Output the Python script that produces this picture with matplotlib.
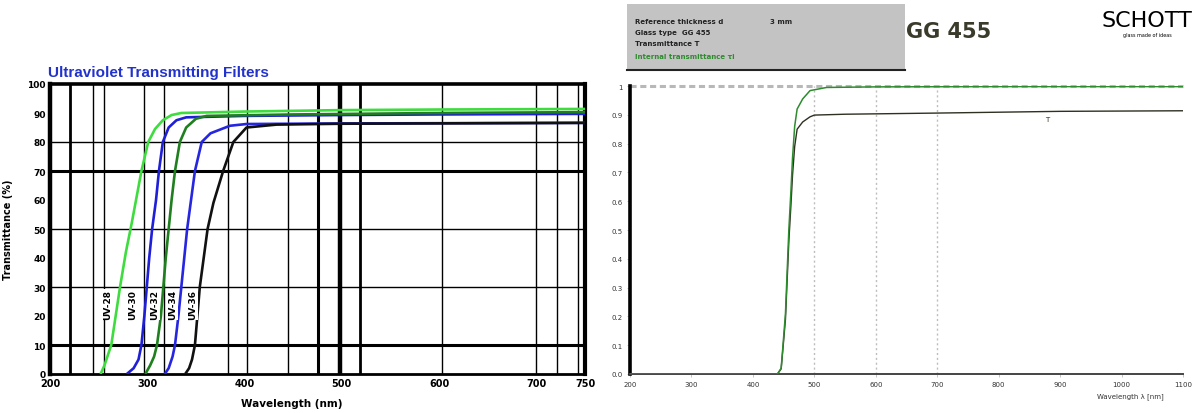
import matplotlib
matplotlib.use("Agg")
import matplotlib.pyplot as plt
from matplotlib.patches import Rectangle
from matplotlib.lines import Line2D

W, H = 1195, 414

# ---------------- left chart: UV sharp-cut filters ----------------
uv_names = ["UV-28", "UV-30", "UV-32", "UV-34", "UV-36"]
uv_colors = ["#3fdc3f", "#1f1fd8", "#1f7f1f", "#2626e0", "#111111"]

uv28_nm = [252, 256, 263, 272, 278, 284, 289, 294, 301, 308, 316, 325, 335, 400, 500, 600, 750]
uv28_t = [0, 3, 10, 30, 42, 52, 61, 70, 80, 84.5, 87.5, 89.3, 90, 90.5, 91, 91.2, 91.4]

uv30_nm = [279, 286, 291, 294, 297, 299.5, 302, 305, 309, 312, 316, 322, 330, 340, 400, 500, 600, 750]
uv30_t = [0, 2, 5, 10, 20, 30, 40, 50, 60, 70, 80, 85, 87.5, 88.5, 89, 89.3, 89.5, 89.7]

uv32_nm = [298, 303, 307, 310, 314, 316.5, 319, 322, 325, 328.5, 333.5, 340, 350, 361, 450, 600, 750]
uv32_t = [0, 3, 6, 10, 20, 30, 40, 50, 60, 70, 80, 85, 88, 89, 89.5, 90, 90.3]

uv34_nm = [318, 322, 326, 328.5, 332, 335, 338, 341, 345, 349, 356, 365, 385, 402, 500, 750]
uv34_t = [0, 2, 6, 10, 20, 30, 40, 50, 60, 70, 80, 83, 85.6, 86.2, 86.4, 86.6]

uv36_nm = [339, 343, 346, 349, 351.5, 354, 358, 362, 368, 378, 388.5, 402, 433, 500, 750]
uv36_t = [0, 2, 5, 10, 20, 30, 40, 50, 59, 70, 80, 85, 86, 86.3, 86.6]

uv_label_nm = [259, 285, 308, 326, 347]
uv_label_t = 24

left_xticks = [200, 300, 400, 500, 600, 700, 750]
left_yticks = [0, 10, 20, 30, 40, 50, 60, 70, 80, 90, 100]

# reference wavelengths drawn as vertical rules (nm, line width)
v_rules = [(221, 2.0), (244, 1.0), (255, 1.0), (297, 1.0), (317, 1.0),
           (383, 1.0), (403, 1.0), (445, 1.0), (476, 2.2), (498, 3.2),
           (519, 2.0), (603, 1.0), (700, 1.0), (721, 1.0), (743, 1.0)]
h_rules = [(10, 2.2), (30, 1.0), (50, 1.0), (70, 2.2), (80, 1.0)]

# ---------------- right chart: GG 455 ----------------
gg_nm = [200, 430, 440, 446, 449, 453, 458.5, 462, 464.5, 468, 472, 481, 493, 520, 600, 800, 1100]
gg_tau = [0, 0, 0.0, 0.02, 0.10, 0.21, 0.50, 0.64, 0.75, 0.86, 0.92, 0.955, 0.984, 0.995, 0.997, 0.998, 0.998]

gg_T_nm = [200, 440, 446, 449, 453, 458.5, 462, 464.5, 468, 472, 481, 493, 500, 550, 700, 900, 1100]
gg_T = [0, 0, 0.018, 0.09, 0.19, 0.46, 0.59, 0.69, 0.79, 0.85, 0.875, 0.893, 0.899, 0.902, 0.906, 0.912, 0.914]

right_xticks = [200, 300, 400, 500, 600, 700, 800, 900, 1000, 1100]
right_yticks = [0, 0.1, 0.2, 0.3, 0.4, 0.5, 0.6, 0.7, 0.8, 0.9, 1.0]
right_ylabels = ["0.0", "0.1", "0.2", "0.3", "0.4", "0.5", "0.6", "0.7", "0.8", "0.9", "1"]
marker_nm = [500, 600, 700]

fig = plt.figure(figsize=(W / 100, H / 100), dpi=100)
fig.patch.set_facecolor("white")

# ---- left axes ----
ax1 = fig.add_axes([50 / W, 1 - 375 / H, 535 / W, 290 / H])
ax1.set_xlim(200, 750)
ax1.set_ylim(0, 100)
for x, lw in v_rules:
    ax1.axvline(x, color="black", lw=lw, zorder=1)
for y, lw in h_rules:
    ax1.axhline(y, color="black", lw=lw, zorder=1)

curves = [(uv28_nm, uv28_t), (uv30_nm, uv30_t), (uv32_nm, uv32_t),
          (uv34_nm, uv34_t), (uv36_nm, uv36_t)]
for (nm, t), c in zip(curves, uv_colors):
    ax1.plot(nm, t, color=c, lw=1.9, zorder=3, solid_capstyle="butt",
             solid_joinstyle="round")

for name, x in zip(uv_names, uv_label_nm):
    ax1.text(x, uv_label_t, name, rotation=90, ha="center", va="center",
             fontsize=6.5, fontweight="bold", color="black", zorder=4,
             bbox=dict(facecolor="white", edgecolor="none", pad=0.6))

for side, lw in (("left", 3.2), ("top", 2.6), ("right", 3.0), ("bottom", 2.0)):
    ax1.spines[side].set_linewidth(lw)
    ax1.spines[side].set_color("black")
ax1.set_xticks(left_xticks)
ax1.set_xticklabels([str(v) for v in left_xticks], fontsize=7, fontweight="bold")
ax1.set_yticks(left_yticks)
ax1.set_yticklabels([str(v) for v in left_yticks], fontsize=6.5, fontweight="bold")
ax1.tick_params(length=0, pad=3)
ax1.set_ylabel("Transmittance (%)", fontsize=7, fontweight="bold", labelpad=10)

fig.text(292 / W, 1 - 404 / H, "Wavelength (nm)", fontsize=7.5,
         fontweight="bold", ha="center", va="center")
fig.text(48 / W, 1 - 73 / H, "Ultraviolet Transmitting Filters",
         fontsize=11, fontweight="bold", color="#2233cc",
         family="Liberation Sans", va="center", ha="left")

# ---- right axes ----
ax2 = fig.add_axes([630 / W, 1 - 375 / H, 553 / W, 288 / H])
ax2.set_xlim(200, 1100)
ax2.set_ylim(0, 1.0)
ax2.axhline(1.0, color="#b8b8b8", lw=2.2, dashes=(2.0, 1.2), zorder=1, clip_on=False)
for x in marker_nm:
    ax2.axvline(x, color="#bdbdbd", lw=1.0, dashes=(1.5, 2.0), zorder=1)
ax2.plot(gg_T_nm, gg_T, color="#2f2f22", lw=1.0, zorder=3)
ax2.plot(gg_nm, gg_tau, color="#2e8b2e", lw=1.1, zorder=4)
ax2.text(875, 0.885, "T", fontsize=5, color="#2f2f22", ha="left", va="center")

ax2.spines["top"].set_visible(False)
ax2.spines["right"].set_visible(False)
ax2.spines["left"].set_linewidth(2.6)
ax2.spines["left"].set_color("black")
ax2.spines["bottom"].set_linewidth(1.4)
ax2.spines["bottom"].set_color("#444444")
ax2.set_xticks(right_xticks)
ax2.set_xticklabels([str(v) for v in right_xticks], fontsize=5, color="#333333")
ax2.set_yticks(right_yticks)
ax2.set_yticklabels(right_ylabels, fontsize=5, color="#333333")
ax2.tick_params(length=2, width=0.6, color="#bbbbbb", pad=3)

fig.text(1130 / W, 1 - 397 / H, "Wavelength λ [nm]", fontsize=5,
         color="#333333", ha="center", va="center")

# ---- header box ----
fig.add_artist(Rectangle((627 / W, 1 - 72 / H), 278 / W, 67 / H,
                         transform=fig.transFigure, facecolor="#c3c3c3",
                         edgecolor="none", zorder=0))
fig.add_artist(Line2D([627 / W, 905 / W], [1 - 71 / H, 1 - 71 / H],
                      transform=fig.transFigure, color="#222222", lw=1.5))
header_lines = [("Reference thickness d", "#222222"),
                ("Glass type  GG 455", "#222222"),
                ("Transmittance T", "#222222"),
                ("Internal transmittance τi", "#2e8b2e")]
header_y = [22, 33, 44, 57]
for (txt, col), y in zip(header_lines, header_y):
    fig.text(635 / W, 1 - y / H, txt, fontsize=5, color=col, va="center",
             fontweight="bold")
fig.text(770 / W, 1 - 22 / H, "3 mm", fontsize=5, color="#222222", va="center",
         fontweight="bold")

fig.text(906 / W, 1 - 32 / H, "GG 455", fontsize=15, fontweight="bold",
         color="#3b3b2b", va="center", ha="left")
fig.text(1147 / W, 1 - 21 / H, "SCHOTT", fontsize=16, color="black",
         va="center", ha="center")
fig.text(1147 / W, 1 - 36 / H, "glass made of ideas", fontsize=3.5,
         color="black", va="center", ha="center")

fig.savefig("out.png", dpi=100)
